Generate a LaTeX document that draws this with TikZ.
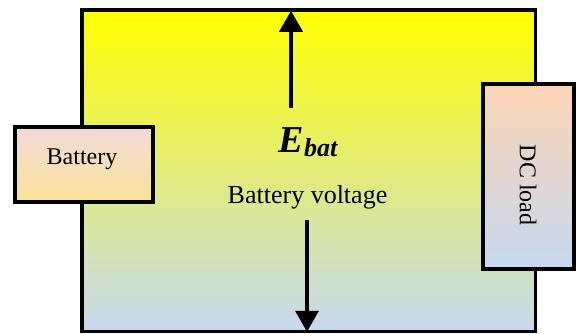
\documentclass[tikz,border=0pt]{standalone}
\usepackage{fontspec}
\setmainfont{Liberation Serif}
\usetikzlibrary{arrows.meta}
\definecolor{skyblue}{RGB}{198,217,240}
\definecolor{rosepink}{RGB}{243,219,218}
\definecolor{sandgold}{RGB}{250,227,150}
\definecolor{peach}{RGB}{251,212,180}
\tikzset{
  busframe/.style = {draw=black,line width=3.5pt,inner sep=0pt,top color=yellow,bottom color=skyblue},
  unitbox/.style  = {draw=black,line width=4pt,inner sep=0pt},
  unitname/.style = {inner sep=0pt,font=\fontsize{24}{28}\selectfont},
  voltarr/.style  = {-{Triangle[length=21pt,width=23pt]},line width=3.5pt}
}

\begin{document}
\begin{tikzpicture}[x=1pt,y=-1pt]
  \useasboundingbox (0,0) rectangle (576,333);
  \node[busframe,minimum width=453.5pt,minimum height=321.5pt] (bus) at (308.75,170.75) {};
  \node[unitbox,top color=rosepink,bottom color=sandgold,minimum width=138pt,minimum height=75pt] (batt) at (84,164.5) {};
  \node[unitbox,top color=peach,bottom color=skyblue,minimum width=91.5pt,minimum height=185pt] (load) at (528.25,176.5) {};
  \node[unitname] (battname) at (82,159.6) {Battery};
  \node[unitname,rotate=-90] (loadname) at (528,185) {DC load};
  \node[inner sep=0pt,font=\fontsize{38}{40}\selectfont\bfseries\itshape] (ebat) at (308,142.4)
    {E\raisebox{-4pt}{\fontsize{26}{28}\selectfont bat}};
  \node[unitname,font=\fontsize{26}{30}\selectfont] (vlabel) at (307.5,196.9) {Battery voltage};
  \coordinate (upfoot) at (291,108);
  \coordinate (downfoot) at (307,220);
  \draw[voltarr,shorten >=2.5pt] (upfoot) -- (upfoot |- bus.north);
  \draw[voltarr,shorten >=1.5pt] (downfoot) -- (downfoot |- bus.south);
\end{tikzpicture}
\end{document}
